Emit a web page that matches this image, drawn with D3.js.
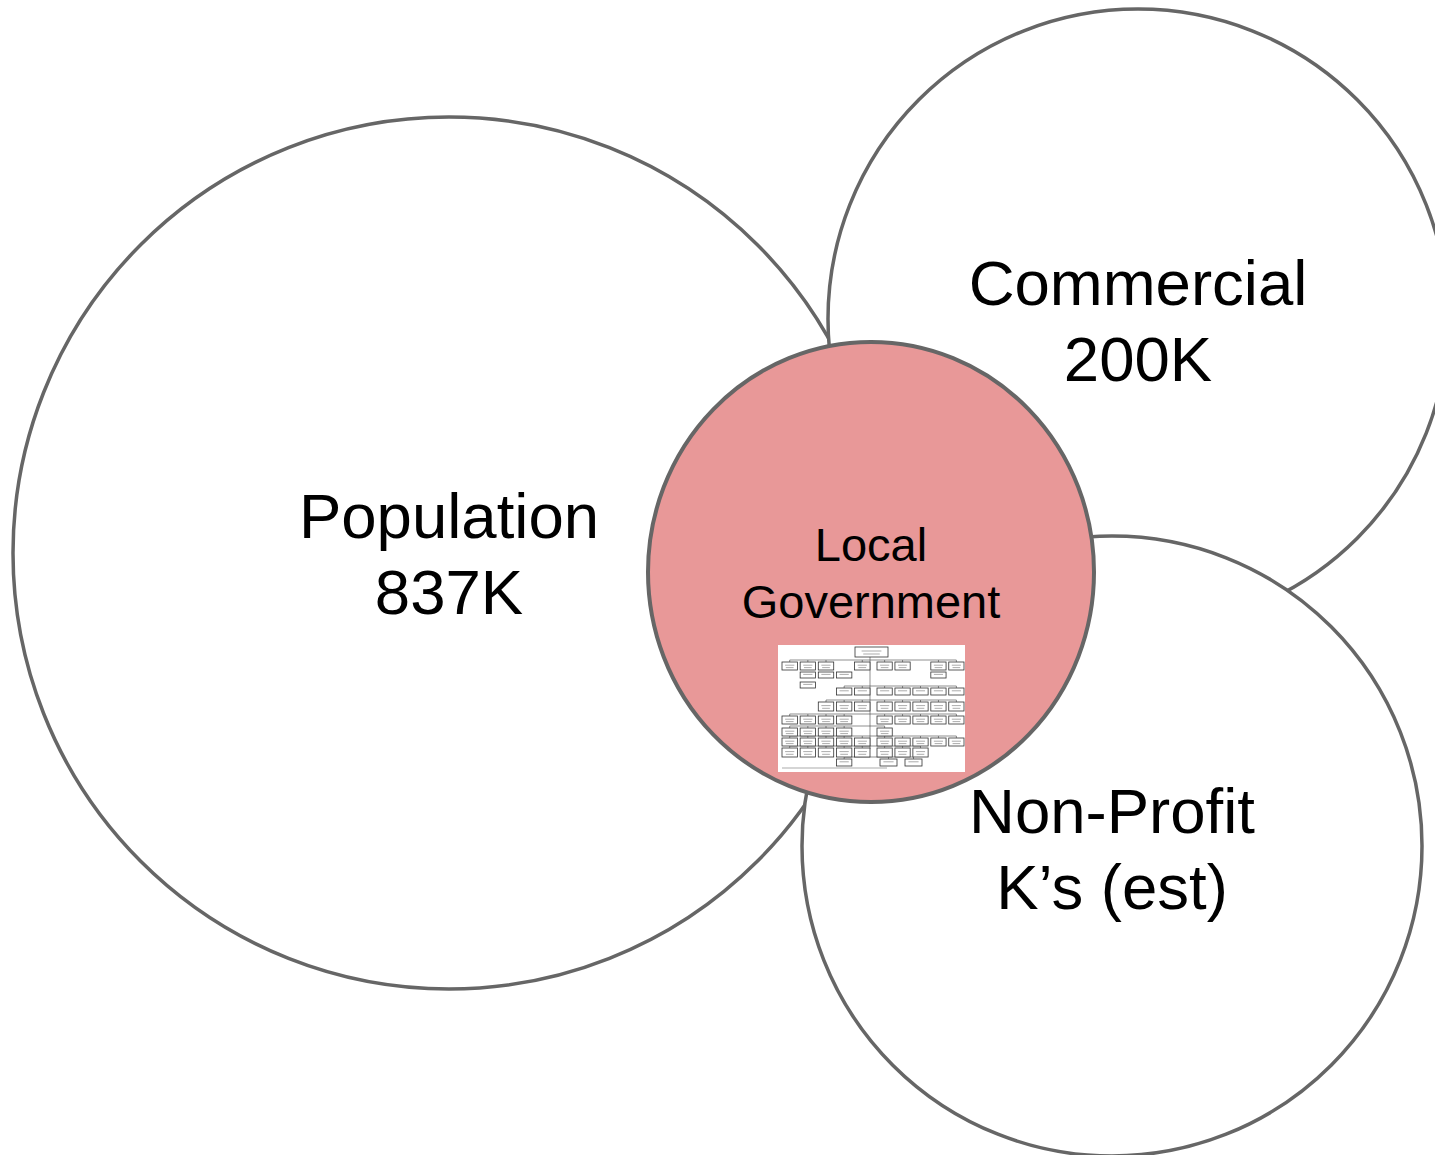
<!DOCTYPE html>
<html lang="en">
<head>
<meta charset="UTF-8">
<title>Local Government Circles</title>
<script src="https://d3js.org/d3.v7.min.js"></script>
<style>
    body { margin: 0; background: #fff; }
    svg { display: block; }
    .bubble { fill: #fff; stroke: #666; stroke-width: 3.5px; }
    .core { fill: #e89898; stroke: #666; stroke-width: 4px; }
    .label { font-family: "Liberation Sans", Arial, sans-serif; fill: #000; text-anchor: middle; }
    .org rect.box { fill: #fff; stroke: #333; stroke-width: 0.8px; }
    .org line { stroke: #444; stroke-width: 0.6px; }
    .org .txt { stroke: #888; stroke-width: 0.7px; }
</style>
</head>
<body>
<svg width="1435" height="1155"></svg>
<script>
    // groups and their headline numbers
    const names = ['Population', 'Commercial', 'Non-Profit'];
    const counts = ['837K', '200K', 'K\u2019s (est)'];
    const coreLines = ['Local', 'Government'];

    // org chart inset: rows of boxes (slot indices on each side of the spine)
    const orgRowY = [17, 27, 37, 43, 57, 71, 83, 93, 103, 114];
    const orgRowH = [8, 6, 6, 7, 9, 8, 8, 8, 9, 7];
    const orgLeft = [[0, 1, 2, 4], [1, 2, 3], [1], [3, 4], [2, 3, 4], [0, 1, 2, 3], [0, 1, 2, 3], [0, 1, 2, 3, 4], [0, 1, 2, 3, 4], [3]];
    const orgRight = [[0, 1, 3, 4], [3], [], [0, 1, 2, 3, 4], [0, 1, 2, 3, 4], [0, 1, 2, 3, 4], [0], [0, 1, 2, 3, 4], [0, 1, 2], [0, 1]];

    // layout (pixels)
    const bubbles = [
        { cx: 449, cy: 553, r: 436, ty: 538 },
        { cx: 1138, cy: 319, r: 310, ty: 305 },
        { cx: 1112, cy: 846, r: 310, ty: 833 }
    ];
    const core = { cx: 871, cy: 572, rx: 223, ry: 230 };

    const svg = d3.select('svg');

    svg.selectAll('circle.bubble')
        .data(bubbles)
        .join('circle')
        .attr('class', 'bubble')
        .attr('cx', d => d.cx)
        .attr('cy', d => d.cy)
        .attr('r', d => d.r);

    svg.append('ellipse')
        .attr('class', 'core')
        .attr('cx', core.cx)
        .attr('cy', core.cy)
        .attr('rx', core.rx)
        .attr('ry', core.ry);

    const labels = svg.selectAll('text.group')
        .data(bubbles)
        .join('text')
        .attr('class', 'label group')
        .attr('font-size', 63.5)
        .attr('x', d => d.cx);
    labels.append('tspan').attr('x', d => d.cx).attr('y', d => d.ty).text((d, i) => names[i]);
    labels.append('tspan').attr('x', d => d.cx).attr('dy', 76).text((d, i) => counts[i]);

    svg.append('text')
        .attr('class', 'label')
        .attr('font-size', 47)
        .selectAll('tspan')
        .data(coreLines)
        .join('tspan')
        .attr('x', core.cx)
        .attr('y', (d, i) => 561 + i * 57)
        .text(d => d);

    // org chart picture
    const org = svg.append('g')
        .attr('class', 'org')
        .attr('transform', 'translate(778,645)');

    org.append('rect').attr('width', 187).attr('height', 127).attr('fill', '#fff');

    const spine = 92;
    const leftX = d3.scaleBand().domain(d3.range(5)).range([4, 92]).paddingInner(0.15);
    const rightX = d3.scaleBand().domain(d3.range(5)).range([99, 186]).paddingInner(0.15);

    org.append('line').attr('x1', spine).attr('x2', spine).attr('y1', 12).attr('y2', 104);

    const boxes = [];
    orgRowY.forEach((y, r) => {
        const h = orgRowH[r];
        const row = orgLeft[r].map(s => ({ x: leftX(s), w: leftX.bandwidth(), y, h }))
            .concat(orgRight[r].map(s => ({ x: rightX(s), w: rightX.bandwidth(), y, h })));
        if (r === orgRowY.length - 1 && orgRight[r].length) {
            row.filter(b => b.x > spine).forEach((b, i) => { b.w = 17; b.x = 102 + i * 25; });
        }
        if (row.length > 1 && r !== 1 && r !== 2) {
            const xs = row.map(b => b.x + b.w / 2);
            org.append('line')
                .attr('x1', d3.min(xs)).attr('x2', d3.max(xs))
                .attr('y1', y - 2).attr('y2', y - 2);
            row.forEach(b => org.append('line')
                .attr('x1', b.x + b.w / 2).attr('x2', b.x + b.w / 2)
                .attr('y1', y - 2).attr('y2', y));
        }
        boxes.push(...row);
    });
    boxes.push({ x: 77, y: 2, w: 33, h: 10, top: true });

    const bx = org.selectAll('g.b')
        .data(boxes)
        .join('g')
        .attr('class', 'b')
        .attr('transform', d => `translate(${d.x},${d.y})`);
    bx.append('rect').attr('class', 'box').attr('width', d => d.w).attr('height', d => d.h);
    bx.append('line').attr('class', 'txt')
        .attr('x1', d => d.w * 0.2).attr('x2', d => d.w * 0.8)
        .attr('y1', d => d.h * 0.4).attr('y2', d => d.h * 0.4);
    bx.filter(d => d.h >= 8).append('line').attr('class', 'txt')
        .attr('x1', d => d.w * 0.25).attr('x2', d => d.w * 0.75)
        .attr('y1', d => d.h * 0.7).attr('y2', d => d.h * 0.7);

    org.append('line').attr('class', 'txt')
        .attr('x1', 4).attr('x2', 109).attr('y1', 123).attr('y2', 123);
</script>
</body>
</html>
